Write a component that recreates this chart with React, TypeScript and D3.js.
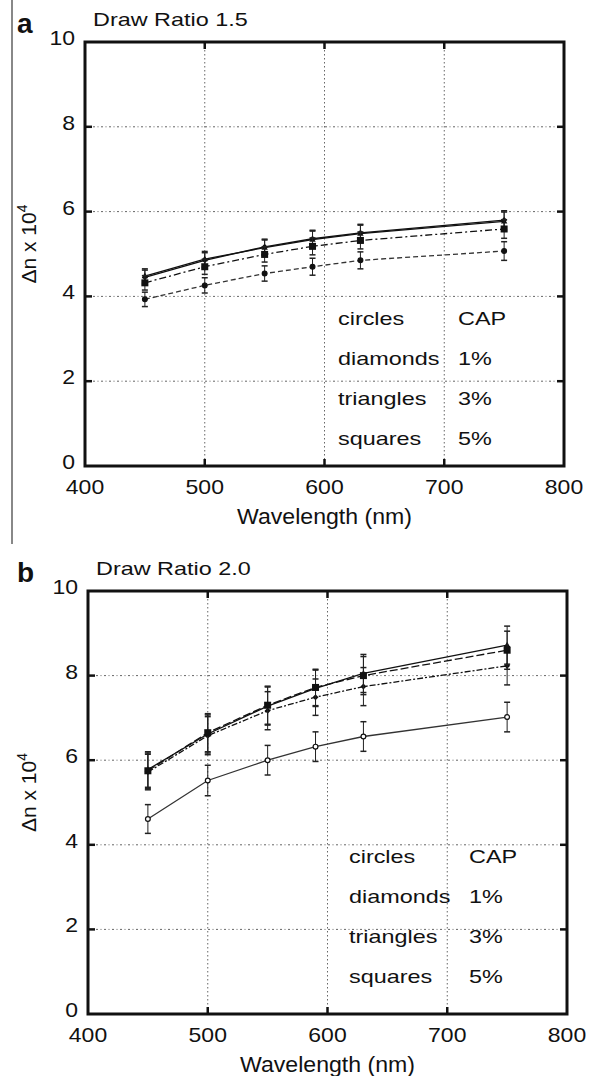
import React from 'react';
import * as d3 from 'd3';

const WAVELENGTHS = [450, 500, 550, 590, 630, 750];
const SERIES_NAMES = ['circles', 'diamonds', 'triangles', 'squares'];
const SERIES_LABELS = ['CAP', '1%', '3%', '5%'];
const X_TICKS = [400, 500, 600, 700, 800];
const Y_TICKS = [0, 2, 4, 6, 8, 10];

// panel a, draw ratio 1.5
const A_CIRCLES = [3.93, 4.26, 4.54, 4.70, 4.85, 5.07];
const A_DIAMONDS = [4.45, 4.85, 5.17, 5.36, 5.50, 5.80];
const A_TRIANGLES = [4.48, 4.88, 5.15, 5.34, 5.48, 5.77];
const A_SQUARES = [4.32, 4.70, 4.99, 5.18, 5.32, 5.59];
const A_ERR = [0.17, 0.18, 0.18, 0.2, 0.2, 0.22];

// panel b, draw ratio 2.0
const B_CIRCLES = [4.61, 5.52, 6.00, 6.32, 6.56, 7.02];
const B_DIAMONDS = [5.72, 6.58, 7.17, 7.49, 7.74, 8.23];
const B_TRIANGLES = [5.78, 6.62, 7.28, 7.70, 8.05, 8.72];
const B_SQUARES = [5.75, 6.65, 7.30, 7.72, 8.00, 8.60];
const B_ERR_CIRCLES = [0.34, 0.36, 0.35, 0.35, 0.35, 0.35];
const B_ERR = [0.42, 0.45, 0.45, 0.43, 0.45, 0.45];

const FONT = 'Liberation Sans, Arial, sans-serif';
const DASHES_A = ['5,3', 'none', 'none', '7,3,2,3'];
const DASHES_B = ['none', '6,2,2,2', 'none', '8,3'];

interface PanelProps {
  letter: string;
  title: string;
  series: number[][];
  errors: number[][];
  dashes: string[];
  openCircles: boolean;
  left: number;
  right: number;
  top: number;
  bottom: number;
  legendX: number;
  legendY: number;
}

const Stretch: React.FC<{ x: number; y: number; sx: number; size: number; anchor?: string; children: React.ReactNode }> = ({ x, y, sx, size, anchor = 'start', children }) => (
  <text transform={`translate(${x},${y}) scale(${sx},1)`} fontSize={size} fontFamily={FONT} textAnchor={anchor} fill="#111">
    {children}
  </text>
);

const Marker: React.FC<{ kind: string; x: number; y: number; open: boolean }> = ({ kind, x, y, open }) => {
  if (kind === 'circles') {
    return <circle cx={x} cy={y} r={2.4} fill={open ? '#fff' : '#111'} stroke="#111" strokeWidth={1.2} />;
  }
  if (kind === 'squares') {
    return <rect x={x - 3.5} y={y - 3.5} width={7} height={7} fill="#111" />;
  }
  if (kind === 'triangles') {
    return <path d={`M${x},${y - 3.5}L${x + 3.2},${y + 2.2}L${x - 3.2},${y + 2.2}Z`} fill="#111" />;
  }
  return <path d={`M${x},${y - 3}L${x + 3},${y}L${x},${y + 3}L${x - 3},${y}Z`} fill="#111" />;
};

const Panel: React.FC<PanelProps> = (p) => {
  const x = d3.scaleLinear().domain([400, 800]).range([p.left, p.right]);
  const y = d3.scaleLinear().domain([0, 10]).range([p.bottom, p.top]);
  const line = d3.line<[number, number]>()
    .x(d => x(d[0]))
    .y(d => y(d[1]));

  return (
    <g>
      <text x={17} y={p.top - 9} fontSize={28} fontWeight="bold" fontFamily={FONT} fill="#111">{p.letter}</text>
      <Stretch x={p.left + 8} y={p.top - 16} sx={1.3} size={18}>{p.title}</Stretch>

      {/* grid */}
      {X_TICKS.slice(1, -1).map(t => (
        <line key={'gx' + t} x1={x(t)} x2={x(t)} y1={p.top} y2={p.bottom} stroke="#666" strokeWidth={1} strokeDasharray="1.5,2.5" />
      ))}
      {Y_TICKS.slice(1, -1).map(t => (
        <line key={'gy' + t} x1={p.left} x2={p.right} y1={y(t)} y2={y(t)} stroke="#666" strokeWidth={1} strokeDasharray="2,2.5,1,2.5" />
      ))}

      {/* ticks, inward on all sides */}
      {X_TICKS.slice(1, -1).map(t => (
        <g key={'tx' + t}>
          <line x1={x(t)} x2={x(t)} y1={p.bottom} y2={p.bottom - 7} stroke="#111" strokeWidth={2.5} />
          <line x1={x(t)} x2={x(t)} y1={p.top} y2={p.top + 7} stroke="#111" strokeWidth={2.5} />
        </g>
      ))}
      {Y_TICKS.slice(1, -1).map(t => (
        <g key={'ty' + t}>
          <line x1={p.left} x2={p.left + 7} y1={y(t)} y2={y(t)} stroke="#111" strokeWidth={2.5} />
          <line x1={p.right} x2={p.right - 7} y1={y(t)} y2={y(t)} stroke="#111" strokeWidth={2.5} />
        </g>
      ))}

      {/* series */}
      {p.series.map((vals, si) => {
        const pts: [number, number][] = WAVELENGTHS.map((w, i) => [w, vals[i]]);
        return (
          <g key={'s' + si}>
            <path d={line(pts) || ''} fill="none" stroke={si === 0 ? '#333' : '#111'} strokeWidth={1.3} strokeDasharray={p.dashes[si]} />
            {pts.map((d, i) => {
              const e = p.errors[si][i];
              const cx = x(d[0]);
              return (
                <g key={i} stroke="#222" strokeWidth={1}>
                  <line x1={cx} x2={cx} y1={y(d[1] - e)} y2={y(d[1] + e)} />
                  <line x1={cx - 3} x2={cx + 3} y1={y(d[1] - e)} y2={y(d[1] - e)} strokeWidth={1.5} />
                  <line x1={cx - 3} x2={cx + 3} y1={y(d[1] + e)} y2={y(d[1] + e)} strokeWidth={1.5} />
                </g>
              );
            })}
            {pts.map((d, i) => (
              <Marker key={'m' + i} kind={SERIES_NAMES[si]} x={x(d[0])} y={y(d[1])} open={p.openCircles} />
            ))}
          </g>
        );
      })}

      {/* frame */}
      <rect x={p.left} y={p.top} width={p.right - p.left} height={p.bottom - p.top} fill="none" stroke="#111" strokeWidth={3} />

      {/* tick labels */}
      {Y_TICKS.map(t => (
        <Stretch key={'ly' + t} x={p.left - 10} y={y(t) + 3} sx={1.15} size={20} anchor="end">{t}</Stretch>
      ))}
      {X_TICKS.map(t => (
        <Stretch key={'lx' + t} x={x(t)} y={p.bottom + 28} sx={1.15} size={20} anchor="middle">{t}</Stretch>
      ))}

      <Stretch x={(p.left + p.right) / 2} y={p.bottom + 58} sx={1.05} size={22} anchor="middle">Wavelength (nm)</Stretch>
      <text transform={`translate(36,${(p.top + p.bottom) / 2 - 10}) rotate(-90)`} fontSize={21} fontFamily={FONT} textAnchor="middle" fill="#111">
        Δn x 10<tspan fontSize={14} dy={-9}>4</tspan>
      </text>

      {/* legend text */}
      {SERIES_NAMES.map((n, i) => (
        <g key={'lg' + n}>
          <Stretch x={p.legendX} y={p.legendY + i * 40} sx={1.3} size={18}>{n}</Stretch>
          <Stretch x={p.legendX + 120} y={p.legendY + i * 40} sx={1.3} size={18}>{SERIES_LABELS[i]}</Stretch>
        </g>
      ))}
    </g>
  );
};

export default function App() {
  return (
    <svg width={596} height={1076} style={{ position: 'absolute', left: 0, top: 0, background: '#fff' }}>
      <rect width={596} height={1076} fill="#fff" />
      <line x1={12} x2={12} y1={0} y2={544} stroke="#888" strokeWidth={2} />
      <Panel
        letter="a"
        title="Draw Ratio 1.5"
        series={[A_CIRCLES, A_DIAMONDS, A_TRIANGLES, A_SQUARES]}
        errors={[A_ERR, A_ERR, A_ERR, A_ERR]}
        dashes={DASHES_A}
        openCircles={false}
        left={85}
        right={564}
        top={42}
        bottom={466}
        legendX={338}
        legendY={325}
      />
      <Panel
        letter="b"
        title="Draw Ratio 2.0"
        series={[B_CIRCLES, B_DIAMONDS, B_TRIANGLES, B_SQUARES]}
        errors={[B_ERR_CIRCLES, B_ERR, B_ERR, B_ERR]}
        dashes={DASHES_B}
        openCircles={true}
        left={88}
        right={567}
        top={591}
        bottom={1014}
        legendX={349}
        legendY={863}
      />
    </svg>
  );
}
